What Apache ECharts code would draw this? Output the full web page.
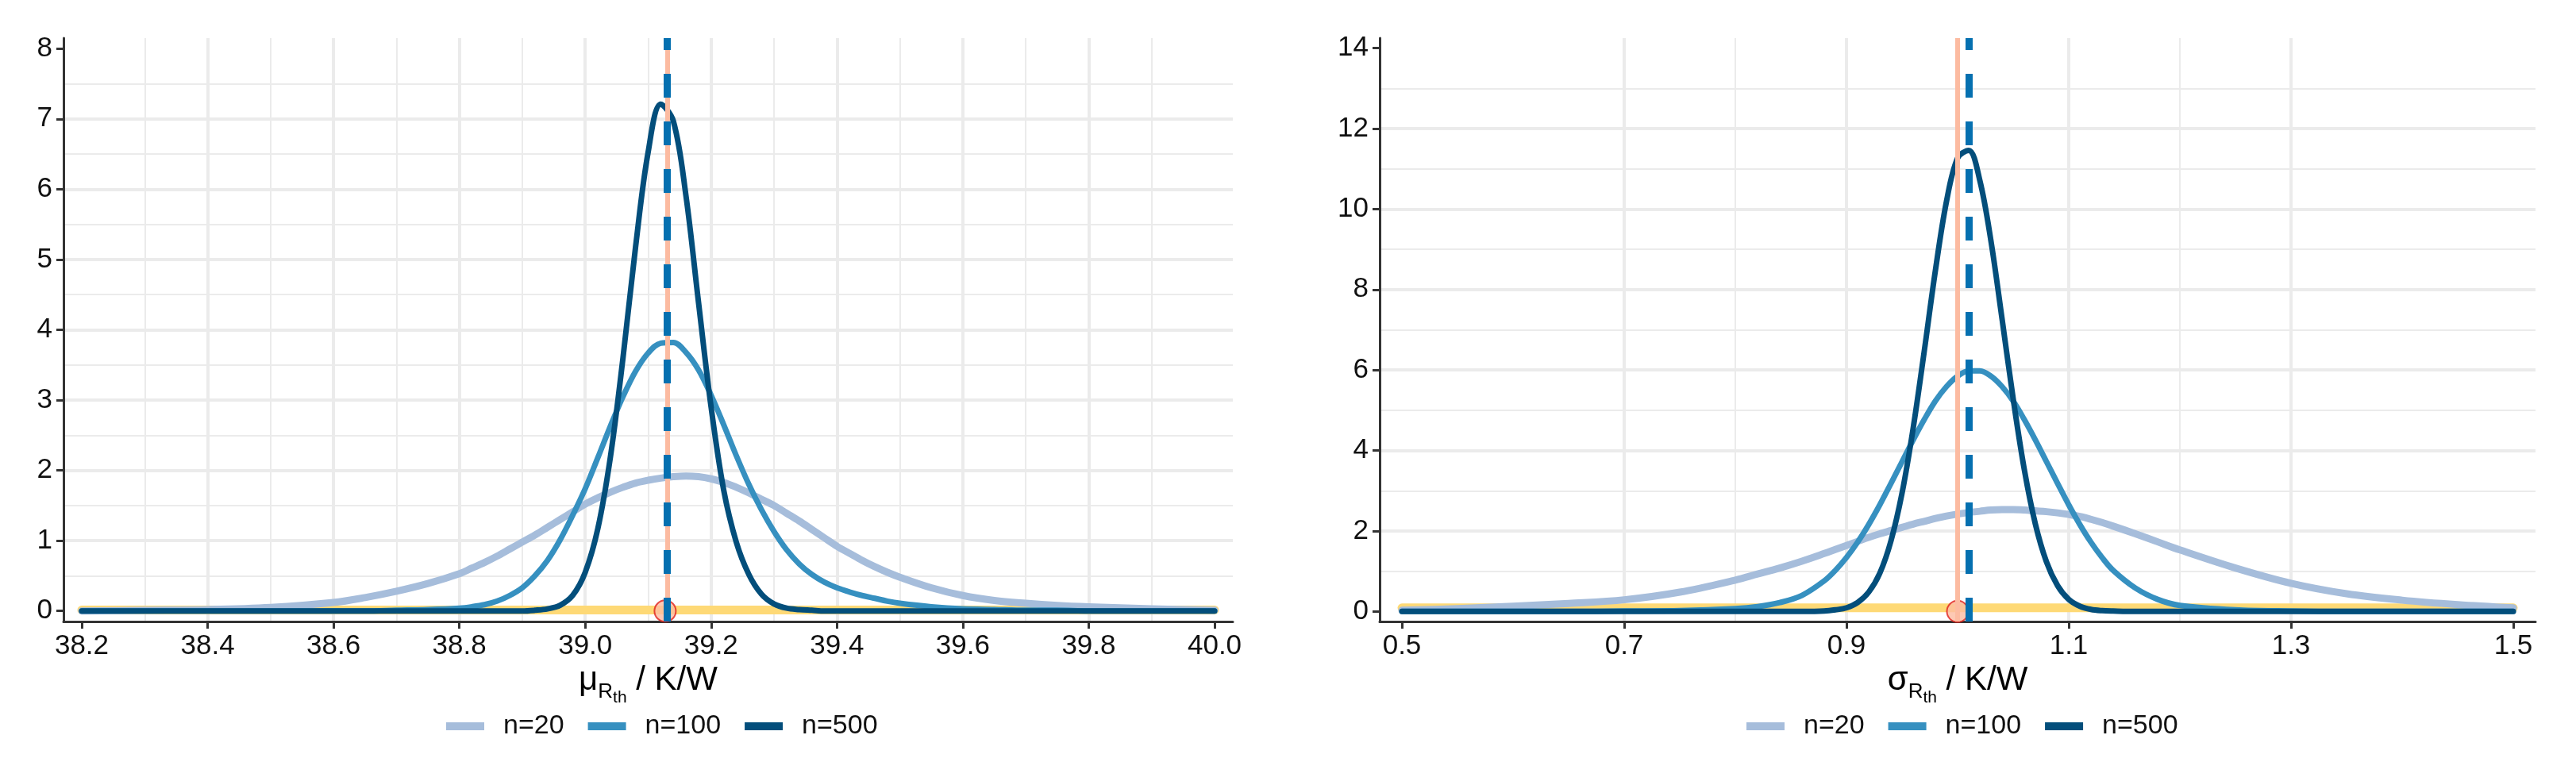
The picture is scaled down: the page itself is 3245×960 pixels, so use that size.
<!DOCTYPE html>
<html>
<head>
<meta charset="utf-8">
<title>Posterior densities</title>
<script src="https://cdn.jsdelivr.net/npm/echarts@6/dist/echarts.min.js"></script>
<style>
html, body { margin: 0; padding: 0; background: #fff; }
#chart { width: 3245px; height: 960px; }
</style>
</head>
<body>
<div id="chart"></div>
<script>
// left panel: mu_Rth
const muX = [38.20, 38.30, 38.40, 38.50, 38.60, 38.65, 38.70, 38.75,
  38.80, 38.82, 38.84, 38.86, 38.88, 38.90, 38.92, 38.94, 38.96, 38.98,
  39.00, 39.02, 39.04, 39.06, 39.08, 39.10, 39.12, 39.14, 39.16, 39.18,
  39.20, 39.22, 39.24, 39.26, 39.28, 39.30, 39.32, 39.34, 39.36, 39.38,
  39.40, 39.42, 39.44, 39.46, 39.48, 39.50,
  39.55, 39.60, 39.65, 39.70, 39.75, 39.80, 39.90, 40.00];
const muN20 = [0.00, 0.01, 0.02, 0.05, 0.12, 0.19, 0.28, 0.39,
  0.53, 0.61, 0.69, 0.78, 0.88, 0.98, 1.08, 1.19, 1.30, 1.41,
  1.52, 1.61, 1.69, 1.76, 1.82, 1.86, 1.89, 1.91, 1.92, 1.91,
  1.88, 1.83, 1.76, 1.68, 1.59, 1.50, 1.39, 1.28, 1.16, 1.04,
  0.92, 0.82, 0.72, 0.63, 0.55, 0.48,
  0.33, 0.22, 0.15, 0.11, 0.08, 0.06, 0.03, 0.01];
const muN100 = [0, 0, 0, 0, 0, 0, 0.01, 0.02,
  0.04, 0.06, 0.09, 0.14, 0.22, 0.33, 0.50, 0.72, 1.01, 1.36,
  1.74, 2.18, 2.63, 3.05, 3.41, 3.67, 3.81, 3.82, 3.68, 3.43,
  3.07, 2.65, 2.21, 1.80, 1.44, 1.13, 0.87, 0.67, 0.52, 0.41,
  0.33, 0.27, 0.22, 0.18, 0.14, 0.11,
  0.06, 0.03, 0.02, 0.01, 0.01, 0, 0, 0];
const muN500 = [0, 0, 0, 0, 0, 0, 0, 0,
  0, 0, 0, 0, 0, 0, 0.01, 0.03, 0.08, 0.22,
  0.55, 1.17, 2.19, 3.60, 5.18, 6.53, 7.21, 6.97, 5.91, 4.39,
  2.90, 1.72, 0.98, 0.52, 0.24, 0.10, 0.04, 0.02, 0.01, 0,
  0, 0, 0, 0, 0, 0,
  0, 0, 0, 0, 0, 0, 0, 0];
const muPriorX = [38.2, 40.0];
const muPriorY = [0.015, 0.015];
const muTrue = 39.127;
const muMean = 39.125;
const muTicks = [38.2, 38.4, 38.6, 38.8, 39.0, 39.2, 39.4, 39.6, 39.8, 40.0];
const muDensTicks = [0, 1, 2, 3, 4, 5, 6, 7, 8];

// right panel: sigma_Rth
const sdX = [0.50, 0.55, 0.60, 0.65, 0.70, 0.75, 0.80, 0.82, 0.84, 0.86,
  0.88, 0.89, 0.90, 0.91, 0.92, 0.93, 0.94, 0.95, 0.96, 0.97,
  0.98, 0.99, 1.00, 1.01, 1.02, 1.03, 1.04, 1.05, 1.06, 1.07,
  1.08, 1.09, 1.10, 1.11, 1.12, 1.13, 1.14, 1.16, 1.18, 1.20,
  1.25, 1.30, 1.35, 1.40, 1.45, 1.50];
const sdN20 = [0.03, 0.07, 0.13, 0.20, 0.29, 0.48, 0.78, 0.93, 1.08, 1.25,
  1.44, 1.54, 1.64, 1.74, 1.84, 1.93, 2.01, 2.09, 2.17, 2.24,
  2.31, 2.37, 2.42, 2.46, 2.49, 2.52, 2.53, 2.53, 2.52, 2.50,
  2.48, 2.45, 2.41, 2.36, 2.29, 2.21, 2.12, 1.93, 1.73, 1.53,
  1.08, 0.70, 0.44, 0.28, 0.17, 0.09];
const sdN100 = [0, 0, 0, 0, 0.01, 0.02, 0.07, 0.12, 0.22, 0.40,
  0.76, 1.02, 1.34, 1.72, 2.16, 2.65, 3.18, 3.72, 4.26, 4.77,
  5.23, 5.59, 5.85, 5.98, 5.98, 5.85, 5.59, 5.23, 4.77, 4.26,
  3.72, 3.18, 2.65, 2.16, 1.72, 1.34, 1.02, 0.58, 0.30, 0.15,
  0.04, 0.01, 0, 0, 0, 0];
const sdN500 = [0, 0, 0, 0, 0, 0, 0, 0, 0, 0,
  0.01, 0.04, 0.09, 0.22, 0.48, 0.95, 1.75, 2.94, 4.55, 6.47,
  8.47, 10.19, 11.27, 11.46, 10.71, 9.21, 7.27, 5.29, 3.53, 2.17,
  1.23, 0.64, 0.30, 0.13, 0.05, 0.02, 0.01, 0, 0, 0,
  0, 0, 0, 0, 0, 0];
const sdPriorX = [0.5, 1.5];
const sdPriorY = [0.09, 0.09];
const sdTrue = 1.0;
const sdMean = 1.007;
const sdTicks = [0.5, 0.7, 0.9, 1.1, 1.3, 1.5];
const sdMinorTicks = [0.6, 0.8, 1.0, 1.2, 1.4];
const sdDensTicks = [0, 2, 4, 6, 8, 10, 12, 14];

const legendNames = ["n=20", "n=100", "n=500"];
const lineColors = ["#a6bddb", "#3690c0", "#034e7b"];
const lineWidths = [9, 7, 7];

let myChart = echarts.init(document.getElementById("chart"));

function pairs(xs, ys) {
  return xs.map(function (x, i) {
    return [x, ys[i]];
  });
}

const axisColor = "#333333";
const gridColor = "#ebebeb";

function valueAxis(grid, min, max, step, ticks, digits) {
  return {
    type: "value",
    gridIndex: grid,
    min: min,
    max: max,
    minInterval: step,
    maxInterval: step,
    axisLine: { show: true, onZero: false, lineStyle: { color: axisColor, width: 3 } },
    axisTick: { show: true, length: 9, customValues: ticks, lineStyle: { color: axisColor, width: 3 } },
    axisLabel: {
      customValues: ticks,
      fontSize: 35,
      color: "#111",
      margin: 14,
      formatter: function (v) {
        return v.toFixed(digits);
      },
    },
    splitLine: { show: true, showMinLine: false, showMaxLine: false, lineStyle: { color: gridColor, width: 4 } },
    minorTick: { show: false, splitNumber: 2 },
    minorSplitLine: { show: true, lineStyle: { color: gridColor, width: 2 } },
  };
}

// subscripts R and th pushed down with top padding
const nameRich = {
  m: { fontSize: 42, color: "#000" },
  s: { fontSize: 26, color: "#000", padding: [28, 0, 0, 0] },
  t: { fontSize: 21, color: "#000", padding: [42, 0, 0, 0] },
};

let xMu = valueAxis(0, 38.171, 40.029, 0.2, muTicks, 1);
xMu.position = "bottom";
xMu.name = "{m|μ}{s|R}{t|th}{m| / K/W}";
xMu.nameLocation = "middle";
xMu.nameGap = 41;
xMu.nameTextStyle = { rich: nameRich };

let xSd = valueAxis(1, 0.48, 1.52, 0.2, sdTicks, 1);
xSd.position = "bottom";
xSd.minorSplitLine = { show: false };
xSd.name = "{m|σ}{s|R}{t|th}{m| / K/W}";
xSd.nameLocation = "middle";
xSd.nameGap = 41;
xSd.nameTextStyle = { rich: nameRich };

// thin grid lines of the right panel sit on 0.6, 0.8, ... (hidden axis)
let xSdMinor = {
  type: "value",
  gridIndex: 1,
  position: "top",
  min: 0.48,
  max: 1.52,
  minInterval: 0.2,
  maxInterval: 0.2,
  axisLine: { show: false },
  axisTick: { show: false, customValues: sdMinorTicks },
  axisLabel: { show: false },
  splitLine: { show: true, showMinLine: false, showMaxLine: false, lineStyle: { color: gridColor, width: 2 } },
};

let yMu = valueAxis(0, -0.15, 8.15, 1, muDensTicks, 0);
let ySd = valueAxis(1, -0.25, 14.25, 2, sdDensTicks, 0);

let series = [];

function addPanel(idx, xs, curves, priorX, priorY, trueVal, meanVal) {
  series.push({
    name: "prior",
    type: "line",
    xAxisIndex: idx,
    yAxisIndex: idx,
    data: pairs(priorX, priorY),
    symbol: "none",
    lineStyle: { color: "#fed976", width: 11, cap: "round" },
    z: 1,
    markLine: {
      silent: true,
      symbol: ["none", "none"],
      label: { show: false },
      lineStyle: { color: "#fcbba1", width: 6, type: "solid" },
      data: [{ xAxis: trueVal }],
    },
  });
  for (let i = 0; i < curves.length; i++) {
    let s = {
      name: legendNames[i],
      type: "line",
      xAxisIndex: idx,
      yAxisIndex: idx,
      data: pairs(xs, curves[i]),
      smooth: 0.35,
      symbol: "none",
      color: lineColors[i],
      itemStyle: { color: lineColors[i] },
      lineStyle: { color: lineColors[i], width: lineWidths[i], cap: "round", join: "round" },
      z: 2,
    };
    if (i === curves.length - 1) {
      s.markLine = {
        silent: true,
        symbol: ["none", "none"],
        label: { show: false },
        lineStyle: { color: "#0570b0", width: 9, type: [30, 30] },
        data: [{ xAxis: meanVal }],
      };
    }
    series.push(s);
  }
  series.push({
    name: "true value",
    type: "scatter",
    xAxisIndex: idx,
    yAxisIndex: idx,
    data: [[trueVal, 0]],
    symbolSize: 27,
    itemStyle: { color: "#fcbba1", borderColor: "#e0201b", borderWidth: 2 },
    z: 4,
  });
}

addPanel(0, muX, [muN20, muN100, muN500], muPriorX, muPriorY, muTrue, muMean);
addPanel(1, sdX, [sdN20, sdN100, sdN500], sdPriorX, sdPriorY, sdTrue, sdMean);

function legendAt(left) {
  return {
    data: legendNames,
    left: left,
    top: 893,
    icon: "rect",
    itemWidth: 48,
    itemHeight: 10,
    itemGap: 30,
    itemStyle: { borderWidth: 0 },
    textStyle: { fontSize: 34, color: "#111", padding: [0, 0, 0, 19] },
  };
}

let option = {
  animation: false,
  backgroundColor: "#fff",
  textStyle: { fontFamily: "Liberation Sans, Arial, sans-serif" },
  grid: [
    { left: 80, right: 1692, top: 48, bottom: 177 },
    { left: 1738, right: 51, top: 48, bottom: 177 },
  ],
  legend: [legendAt(557), legendAt(2195)],
  xAxis: [xMu, xSd, xSdMinor],
  yAxis: [yMu, ySd],
  series: series,
};

myChart.setOption(option);
window.addEventListener("resize", function () {
  myChart.resize();
});
</script>
</body>
</html>
